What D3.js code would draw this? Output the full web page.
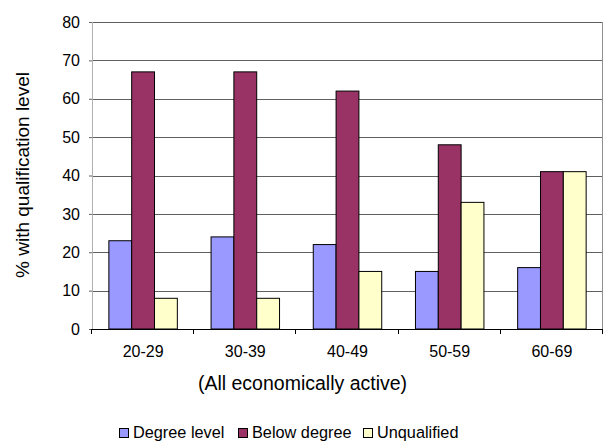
<!DOCTYPE html>
<html><head><meta charset="utf-8">
<script src="https://cdn.jsdelivr.net/npm/d3@7/dist/d3.min.js"></script>
<style>
body{margin:0;background:#fff;}
svg{display:block;font-family:"Liberation Sans",Arial,sans-serif;}
</style></head>
<body><svg id="c" width="604" height="441"></svg>
<script>
const categories = ["20-29","30-39","40-49","50-59","60-69"];
const seriesNames = ["Degree level","Below degree","Unqualified"];
const degreeLevel = [23,24,22,15,16];
const belowDegree = [67,67,62,48,41];
const unqualified = [8,8,15,33,41];
const yTicks = [0,10,20,30,40,50,60,70,80];
const colors = ["#9999FF","#993366","#FFFFCC"];
const xTitle = "(All economically active)";
const yTitle = "% with qualification level";

const values = [degreeLevel, belowDegree, unqualified];
const svg = d3.select("#c");
const L=92, R=603, T=22, B=329;

const x0 = d3.scaleBand().domain(categories).range([L,R]).padding(0);
const x1 = d3.scaleBand().domain(seriesNames)
  .range([x0.bandwidth()*0.165, x0.bandwidth()*0.835]).padding(0);
const y = d3.scaleLinear().domain([0,80]).range([B,T]);

// gridlines
svg.append("g").selectAll("line").data(yTicks.filter(d=>d>0)).join("line")
  .attr("x1",L).attr("x2",R)
  .attr("y1",d=>Math.round(y(d))+0.5).attr("y2",d=>Math.round(y(d))+0.5)
  .attr("stroke","#606060").attr("stroke-width",1);

// plot border left/right
svg.append("line").attr("x1",L+0.5).attr("x2",L+0.5).attr("y1",T).attr("y2",B).attr("stroke","#b0b0b0");
svg.append("line").attr("x1",R-0.5).attr("x2",R-0.5).attr("y1",T).attr("y2",B).attr("stroke","#909090");

// y axis
const yAxis = svg.append("g").attr("transform",`translate(${L},0)`)
  .call(d3.axisLeft(y).tickValues(yTicks).tickSize(3).tickPadding(9));
yAxis.select(".domain").remove();
yAxis.selectAll(".tick line").attr("stroke","#606060");
yAxis.selectAll("text").attr("font-size","16px").attr("fill","#000")
  .attr("font-family",'"Liberation Sans",Arial,sans-serif');

// bars
const groups = svg.append("g").selectAll("g").data(categories).join("g")
  .attr("transform",c=>`translate(${x0(c)},0)`);
groups.selectAll("rect").data((c,i)=>seriesNames.map((s,j)=>({s,j,v:values[j][i]}))).join("rect")
  .attr("x",d=>x1(d.s)).attr("width",x1.bandwidth())
  .attr("y",d=>y(d.v)).attr("height",d=>y(0)-y(d.v))
  .attr("fill",d=>colors[d.j]).attr("stroke","#000").attr("stroke-width",1);

// x axis line and ticks at category boundaries
svg.append("line").attr("x1",L).attr("x2",R).attr("y1",B+0.5).attr("y2",B+0.5).attr("stroke","#000");
const bounds = categories.map(c=>x0(c)).concat([x0.range()[1]]);
svg.append("g").selectAll("line").data(bounds).join("line")
  .attr("x1",d=>Math.round(d)-0.5).attr("x2",d=>Math.round(d)-0.5)
  .attr("y1",B).attr("y2",B+5).attr("stroke","#000");
svg.append("g").selectAll("text").data(categories).join("text")
  .attr("x",c=>x0(c)+x0.bandwidth()/2).attr("y",357)
  .attr("text-anchor","middle").attr("font-size","16px").text(c=>c);

// axis titles
svg.append("text").attr("x",(L+R)/2-45).attr("y",390).attr("text-anchor","middle")
  .attr("font-size","19.5px").text(xTitle);
svg.append("text").attr("transform","translate(29,175) rotate(-90)").attr("text-anchor","middle")
  .attr("font-size","19px").text(yTitle);

// legend
const legX = [119,238,363];
const leg = svg.append("g").selectAll("g").data(seriesNames).join("g")
  .attr("transform",(d,i)=>`translate(${legX[i]},0)`);
leg.append("rect").attr("x",0.5).attr("y",428.5).attr("width",9).attr("height",9)
  .attr("fill",(d,i)=>colors[i]).attr("stroke","#000");
leg.append("text").attr("x",14).attr("y",438).attr("font-size","16.3px").text(d=>d);
</script></body></html>
